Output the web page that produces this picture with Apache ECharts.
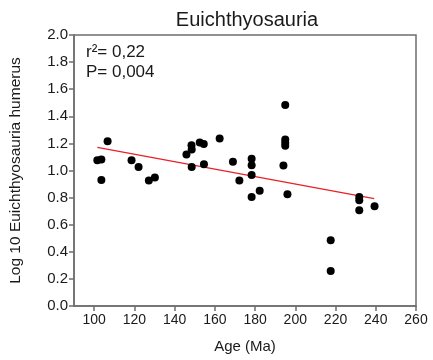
<!DOCTYPE html>
<html>
<head>
<meta charset="utf-8">
<script src="https://cdn.jsdelivr.net/npm/echarts@6/dist/echarts.min.js"></script>
<style>html,body{margin:0;padding:0;background:#fff}#c{width:433px;height:360px}</style>
</head>
<body>
<div id="c"></div>
<script>
var title = 'Euichthyosauria';
var xName = 'Age (Ma)';
var yName = 'Log 10 Euichthyosauria humerus';
var xTicks = [100, 120, 140, 160, 180, 200, 220, 240, 260];
var ages = [101.6, 103.6, 103.6, 106.7, 118.6, 122.1, 127.2, 130.2, 145.9, 148.4, 148.5, 148.5, 152.5, 154.5, 154.6, 162.4, 169.0, 172.2, 178.3, 178.3, 178.3, 178.3, 182.3, 195.0, 195.0, 195.0, 195.0, 194.1, 196.1, 217.6, 217.6, 231.8, 231.8, 231.8, 239.4];
var humerus = [1.076, 1.081, 0.929, 1.215, 1.076, 1.025, 0.926, 0.949, 1.118, 1.187, 1.155, 1.025, 1.207, 1.195, 1.047, 1.237, 1.064, 0.926, 1.087, 1.038, 0.967, 0.805, 0.850, 1.483, 1.229, 1.204, 1.182, 1.037, 0.825, 0.485, 0.259, 0.805, 0.781, 0.707, 0.737];
var fitX = [101.6, 239.2];
var fitY = [1.170, 0.793];
var stats = ['r\u00b2= 0,22', 'P= 0,004'];

var pts = ages.map(function (a, i) { return [a, humerus[i]]; });
var fit = fitX.map(function (a, i) { return [a, fitY[i]]; });
var axisCol = '#6e6e6e';
var font = 'Liberation Sans, Arial, sans-serif';
var chart = echarts.init(document.getElementById('c'), null, {renderer: 'canvas'});
chart.setOption({
  animation: false,
  backgroundColor: '#fff',
  title: {text: title, left: 242, top: 5, textAlign: 'center',
    textStyle: {fontFamily: font, fontSize: 20, fontWeight: 'normal', color: '#1a1a1a'}},
  grid: {left: 73, right: 17, top: 35, bottom: 54, show: true, borderColor: axisCol, borderWidth: 1.5, backgroundColor: 'transparent'},
  xAxis: {type: 'value', min: 90, max: 260, interval: 10,
    name: xName, nameLocation: 'middle', nameGap: 33,
    nameTextStyle: {fontFamily: font, fontSize: 15, color: '#1a1a1a'},
    axisLine: {show: true, onZero: false, lineStyle: {color: axisCol, width: 1.5}},
    axisTick: {show: true, customValues: xTicks, length: 5, lineStyle: {color: axisCol, width: 1.5}},
    axisLabel: {customValues: xTicks, fontFamily: font, fontSize: 14, color: '#1a1a1a', margin: 7},
    splitLine: {show: false}},
  yAxis: {type: 'value', min: 0, max: 2, interval: 0.2,
    name: yName, nameLocation: 'middle', nameGap: 50,
    nameTextStyle: {fontFamily: font, fontSize: 15.5, color: '#1a1a1a'},
    axisLine: {show: true, onZero: false, lineStyle: {color: axisCol, width: 1.5}},
    axisTick: {show: true, length: 5, lineStyle: {color: axisCol, width: 1.5}},
    axisLabel: {fontFamily: font, fontSize: 15, color: '#1a1a1a', margin: 6,
      formatter: function (v) { return v.toFixed(1); }},
    splitLine: {show: false}},
  graphic: [
    {type: 'text', left: 86, top: 44, style: {text: stats[0], font: '17px ' + font, fill: '#1a1a1a'}},
    {type: 'text', left: 86, top: 64, style: {text: stats[1], font: '17px ' + font, fill: '#1a1a1a'}}
  ],
  series: [
    {type: 'scatter', data: pts, symbol: 'circle', symbolSize: 8, itemStyle: {color: '#000', opacity: 1}, z: 3},
    {type: 'line', data: fit, symbol: 'none', lineStyle: {color: '#e8202a', width: 1.2}, z: 2}
  ]
});
</script>
</body>
</html>
